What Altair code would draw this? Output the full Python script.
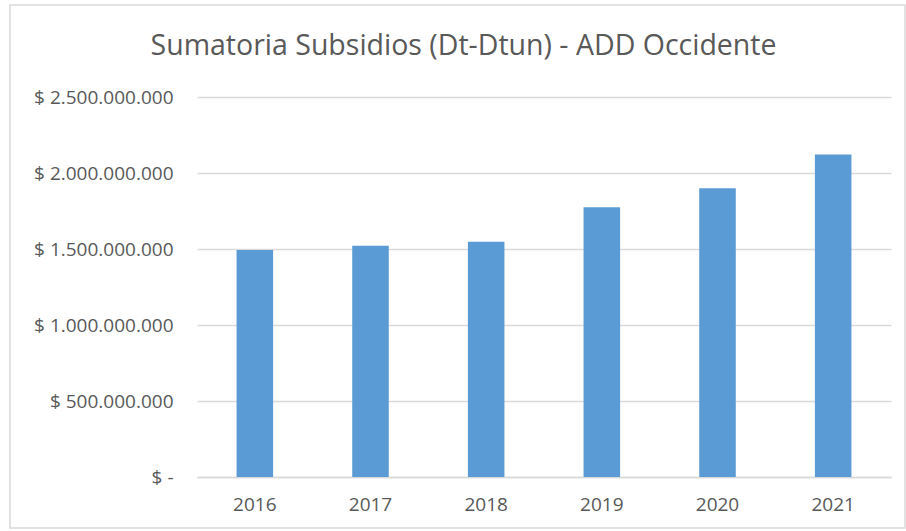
import altair as alt
import pandas as pd

years = ["2016", "2017", "2018", "2019", "2020", "2021"]
values = [1493000000, 1521000000, 1547000000, 1775000000, 1900000000, 2121000000]
y_ticks = [0, 500000000, 1000000000, 1500000000, 2000000000, 2500000000]
title_text = "Sumatoria Subsidios (Dt-Dtun) - ADD Occidente"

df = pd.DataFrame({"year": years, "value": values})

W, H = 694, 380

bars = alt.Chart(df).mark_bar(color="#5B9BD5").encode(
    x=alt.X("year:N", sort=years,
            scale=alt.Scale(paddingInner=0.684, paddingOuter=0.342),
            axis=alt.Axis(title=None, labelAngle=0, ticks=False, domain=True,
                          domainColor="#d9d9d9", domainWidth=1.5,
                          labelPadding=18, labelFontSize=19,
                          labelColor="#595959", labelFont="Open Sans")),
    y=alt.Y("value:Q", scale=alt.Scale(domain=[0, 2500000000], nice=False),
            axis=alt.Axis(title=None, values=y_ticks, ticks=False, domain=False,
                          gridColor="#d9d9d9", gridWidth=1.5,
                          labelPadding=24, labelFontSize=19,
                          labelColor="#595959", labelFont="Open Sans",
                          labelExpr="datum.value == 0 ? '$ -' : '$ ' + replace(format(datum.value, ','), /,/g, '.')")),
)

frame = alt.Chart(alt.Data(values=[{}])).mark_rect(
    fill=None, stroke="#d9d9d9", strokeWidth=1.5
).encode(
    x=alt.value(-187), x2=alt.value(708),
    y=alt.value(-92), y2=alt.value(431),
)

chart = alt.layer(bars, frame).properties(
    width=W, height=H,
    padding={"left": 197, "top": 97, "right": 15, "bottom": 54},
    autosize=alt.AutoSizeParams(type="none"),
    title=alt.TitleParams(title_text, font="Open Sans", fontSize=28.5,
                          fontWeight="normal", color="#595959",
                          anchor="middle", frame="bounds", offset=-79,
                          baseline="alphabetic", dx=6),
    background="white",
).configure_view(stroke=None)

chart.save("out.html", embed_options={"renderer": "svg", "actions": False})
